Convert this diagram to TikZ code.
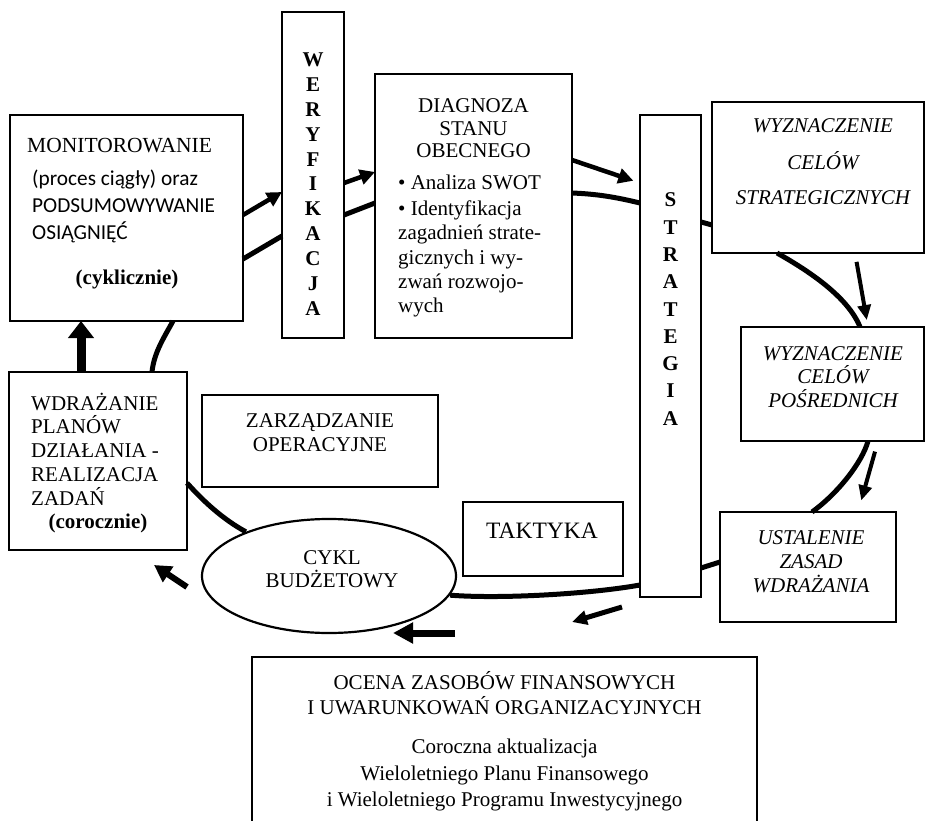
\documentclass[tikz,border=0pt]{standalone}
\usepackage{fontspec}
\setmainfont{Liberation Serif}
\newfontfamily\calfont{Carlito}
\usetikzlibrary{arrows.meta,calc,shapes.geometric}
\newcommand\mainsz{\fontsize{21}{25}\selectfont}
\begin{document}
\begin{tikzpicture}[x=1pt,y=-1pt,
  box/.style={draw,line width=2.2,inner sep=0,outer sep=0},
  tb/.style={inner sep=0,anchor=base,font=\mainsz},
  tl/.style={inner sep=0,anchor=base west,font=\mainsz},
  sanstext/.style={inner sep=0,anchor=base west,font=\calfont\fontsize{21.3}{25}\selectfont},
  cyc/.style={line width=5},
  arr/.style={line width=4.5,-{Triangle[length=15,width=15]}},
  colletter/.style={inner sep=0,anchor=base,font=\fontsize{21}{24}\selectfont\bfseries}]
\useasboundingbox (0,0) rectangle (926,821);

% boxes
\node[box,minimum width=233,minimum height=206] (mon) at (126.5,218) {};
\node[box,minimum width=62,minimum height=326] (wer) at (313,175) {};
\node[box,minimum width=197,minimum height=264] (diag) at (473.5,206) {};
\node[box,minimum width=61,minimum height=482] (strat) at (670.5,356) {};
\node[box,minimum width=212,minimum height=151] (wyzn) at (818,177.5) {};
\node[box,minimum width=183,minimum height=114] (posr) at (832.5,384) {};
\node[box,minimum width=176,minimum height=110] (ust) at (808,567) {};
\node[box,minimum width=160,minimum height=74] (takt) at (543,539) {};
\node[box,minimum width=236,minimum height=92] (zarz) at (320,441) {};
\node[box,minimum width=178,minimum height=178] (wdr) at (98,461) {};
\node[draw,line width=2.2,ellipse,inner sep=0,minimum width=254,minimum height=114] (ell) at (329,576) {};
\node[inner sep=0,minimum width=505,minimum height=165] (res) at (504.5,739.5) {};
\draw[line width=2.2] (res.south west) -- (res.north west) -- (res.north east) -- (res.south east);

% texts
\node[tl,font=\fontsize{21.5}{25}\selectfont] (monA) at (27,153) {MONITOROWANIE};
\node[sanstext] (monB) at (32,186) {(proces ciągły) oraz};
\node[sanstext] (monC) at (32,213) {PODSUMOWYWANIE};
\node[sanstext] (monD) at (32,240) {OSIĄGNIĘĆ};
\node[tb,font=\mainsz\bfseries] (monE) at (127,284) {(cyklicznie)};

\foreach \c [count=\i] in {W,E,R,Y,F,I,K,A,C,J,A}
  \node[colletter] (werl\i) at (313,{67+24.8*(\i-1)}) {\c};
\foreach \c [count=\i] in {S,T,R,A,T,E,G,I,A}
  \node[colletter] (stl\i) at (670.5,{207+27.25*(\i-1)}) {\c};

\node[tb] (diA) at (473.5,113) {DIAGNOZA};
\node[tb] (diB) at (473.5,136) {STANU};
\node[tb] (diC) at (473.5,158) {OBECNEGO};
\node[tl] (diD) at (398,190) {\textbullet\ Analiza SWOT};
\node[tl] (diE) at (398,215) {\textbullet\ Identyfikacja};
\node[tl] (diF) at (398,239) {zagadnień strate-};
\node[tl] (diG) at (398,264) {gicznych i wy-};
\node[tl] (diH) at (398,288) {zwań rozwojo-};
\node[tl] (diI) at (398,312) {wych};

\node[tb,font=\mainsz\itshape] (wyA) at (823,133) {WYZNACZENIE};
\node[tb,font=\mainsz\itshape] (wyB) at (823,170) {CELÓW};
\node[tb,font=\mainsz\itshape] (wyC) at (823,205) {STRATEGICZNYCH};

\node[tb,font=\mainsz\itshape] (poA) at (833,360) {WYZNACZENIE};
\node[tb,font=\mainsz\itshape] (poB) at (833,383) {CELÓW};
\node[tb,font=\mainsz\itshape] (poC) at (833,407) {POŚREDNICH};

\node[tb,font=\mainsz\itshape] (usA) at (811,544) {USTALENIE};
\node[tb,font=\mainsz\itshape] (usB) at (811,568) {ZASAD};
\node[tb,font=\mainsz\itshape] (usC) at (811,592) {WDRAŻANIA};

\node[tb,font=\fontsize{23.5}{28}\selectfont] (taA) at (542,538) {TAKTYKA};

\node[tb] (zaA) at (320,427) {ZARZĄDZANIE};
\node[tb] (zaB) at (320,451) {OPERACYJNE};

\node[tl] (wdA) at (31,410) {WDRAŻANIE};
\node[tl] (wdB) at (31,433) {PLANÓW};
\node[tl] (wdC) at (31,457) {DZIAŁANIA -};
\node[tl] (wdD) at (31,481) {REALIZACJA};
\node[tl] (wdE) at (31,505) {ZADAŃ};
\node[tb,font=\mainsz\bfseries] (wdF) at (98,528) {(corocznie)};

\node[tb] (cyA) at (332,564) {CYKL};
\node[tb] (cyB) at (332,587) {BUDŻETOWY};

\node[tb] (reA) at (504.5,689) {OCENA ZASOBÓW FINANSOWYCH};
\node[tb] (reB) at (504.5,714) {I UWARUNKOWAŃ ORGANIZACYJNYCH};
\node[tb] (reC) at (504.5,753) {Coroczna aktualizacja};
\node[tb] (reD) at (504.5,780) {Wieloletniego Planu Finansowego};
\node[tb] (reE) at (504.5,806) {i Wieloletniego Programu Inwestycyjnego};

% cycle lines
\draw[cyc] ([yshift=-144]mon.north east) -- ([yshift=-224]wer.north west);
\draw[cyc] ([yshift=-203]wer.north east) -- ([yshift=-129]diag.north west);
\draw[cyc] ([yshift=-119]diag.north east) .. controls +(25,1) and +(-25,-6) .. ([yshift=-88]strat.north west);
\draw[cyc] ([yshift=-107]strat.north east) -- ([yshift=-123]wyzn.north west);
\draw[cyc] ([xshift=65]wyzn.south west) .. controls +(32,18) and +(-12,-30) .. ([xshift=119]posr.north west);
\draw[cyc] ([xshift=127]posr.south west) .. controls +(-6,22) and +(25,-18) .. ([xshift=92]ust.north west);
\draw[cyc] ([yshift=-50]ust.north west) -- ([yshift=29]strat.south east);
\draw[cyc] ([yshift=12]strat.south west) .. controls +(-50,9) and +(50,4) .. (ell.-9);
\draw[cyc] ([yshift=-111]wdr.north east) .. controls +(18,20) and +(-22,-12) .. (ell.152);
\draw[cyc] ([xshift=143]wdr.north west) .. controls +(2,-20) and +(-8,15) .. ([xshift=163]mon.south west);

% arrows
\draw[arr] ([yshift=-100]mon.north east) -- ([yshift=-180]wer.north west);
\draw[arr] ([yshift=-171]wer.north east) -- ([yshift=-98]diag.north west);
\draw[arr,shorten >=7] ([yshift=-86]diag.north east) -- ([yshift=-68]strat.north west);
\draw[line width=4,-{Triangle[length=15,width=13]},shorten <=9,shorten >=7]
  ([xshift=143]wyzn.south west) -- ([xshift=127]posr.north west);
\draw[line width=4,-{Triangle[length=15,width=13]},shorten <=11,shorten >=12]
  ([xshift=137]posr.south west) -- ([xshift=138]ust.north west);
\coordinate (n1) at (622,607);
\coordinate (n2) at (572,622);
\draw[line width=5,-{Triangle[length=15,width=14]}] (n1) -- (n2);
\coordinate (o1) at (455,633);
\coordinate (o2) at (393,633);
\draw[line width=7,-{Triangle[length=20,width=20]}] (o1) -- (o2);
\coordinate (p1) at (187,587);
\coordinate (p2) at (154,565);
\draw[line width=6,-{Triangle[length=17,width=18]}] (p1) -- (p2);
\draw[line width=9,-{Triangle[length=17,width=25]}] ([xshift=72]wdr.north west) -- ([xshift=71]mon.south west);
\end{tikzpicture}
\end{document}
